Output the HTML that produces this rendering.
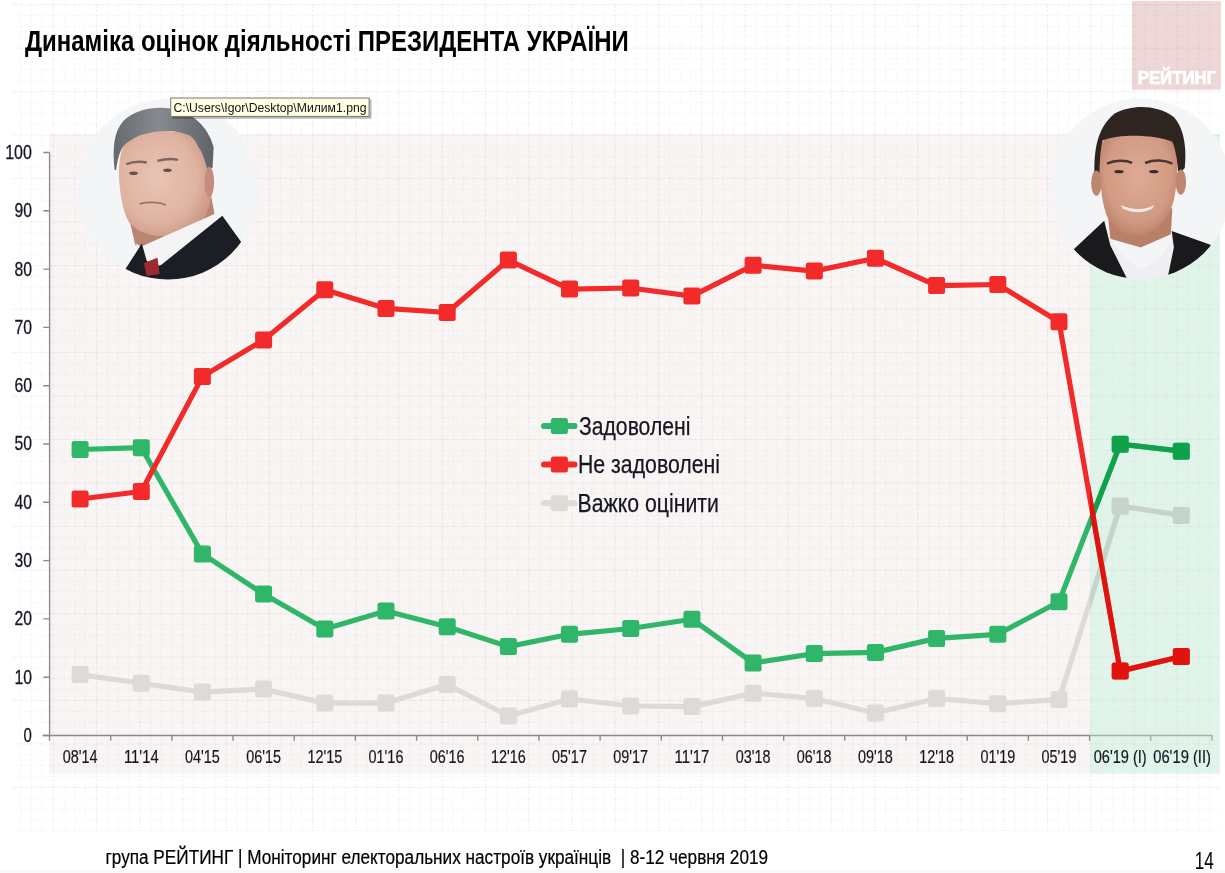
<!DOCTYPE html>
<html><head><meta charset="utf-8"><title>Динаміка оцінок діяльності ПРЕЗИДЕНТА УКРАЇНИ</title>
<style>
html,body{margin:0;padding:0;background:#fff;}
body{width:1225px;height:873px;overflow:hidden;}
svg{display:block;}
text{font-family:"Liberation Sans",Arial,sans-serif;white-space:pre;}
</style></head><body>
<svg width="1225" height="873" viewBox="0 0 1225 873">
<defs>
<pattern id="grid" x="9.5" y="4.1" width="43.23" height="43.49" patternUnits="userSpaceOnUse">
<path d="M0 0.5H43.23M0.5 0V43.49" stroke="#000" stroke-opacity="0.06" stroke-width="1" stroke-dasharray="4 1 3 2" fill="none"/>
<path d="M0 22.25H43.23M22.1 0V43.49" stroke="#000" stroke-opacity="0.035" stroke-width="1" stroke-dasharray="3 2" fill="none"/>
<path d="M0 11.4H43.23M0 33.1H43.23M11.3 0V43.49M32.9 0V43.49" stroke="#000" stroke-opacity="0.018" stroke-width="1" fill="none"/>
</pattern>
<clipPath id="gclip"><rect x="1090" y="134" width="129.7" height="640"/></clipPath>
<clipPath id="c1"><circle cx="168" cy="189.2" r="90.3"/></clipPath>
<clipPath id="c2"><circle cx="1140.7" cy="188.7" r="90.3"/></clipPath>
<radialGradient id="f1" cx="0.42" cy="0.45" r="0.6"><stop offset="0" stop-color="#e9c3b3"/><stop offset="0.7" stop-color="#dfb3a1"/><stop offset="1" stop-color="#cc9985"/></radialGradient>
<linearGradient id="h1" x1="0" y1="0" x2="1" y2="0"><stop offset="0" stop-color="#66696e"/><stop offset="0.45" stop-color="#878a8f"/><stop offset="1" stop-color="#5f6267"/></linearGradient>
<radialGradient id="f2" cx="0.5" cy="0.45" r="0.6"><stop offset="0" stop-color="#dfab94"/><stop offset="0.7" stop-color="#d19a82"/><stop offset="1" stop-color="#b98069"/></radialGradient>
</defs>
<rect x="0" y="869.5" width="1225" height="3.5" fill="#f9f9f9"/>

<rect x="49" y="134" width="1041" height="639.5" fill="#faf5f5"/>
<rect x="1090" y="134" width="129.7" height="639.5" fill="#e1f4ea"/>
<rect x="1132" y="1" width="89" height="88.7" fill="#eed7d7"/>
<rect x="12" y="3" width="1208" height="828" fill="url(#grid)"/>
<text x="1137.7" y="84.2" font-size="17.8" font-weight="bold" fill="#fff" stroke="#fff" stroke-width="0.7" textLength="78.5" lengthAdjust="spacingAndGlyphs">РЕЙТИНГ</text>
<text x="24.9" y="50.6" font-size="30.2" font-weight="bold" fill="#000" textLength="603.8" lengthAdjust="spacingAndGlyphs">Динаміка оцінок діяльності ПРЕЗИДЕНТА УКРАЇНИ</text>
<path d="M49.6 152.5 V736 M42.6 735.5 H1212.3" stroke="#8a8a8a" stroke-width="1.4" fill="none"/>
<path d="M43.3 735.5H49.6 M43.3 677.2H49.6 M43.3 618.9H49.6 M43.3 560.6H49.6 M43.3 502.3H49.6 M43.3 444.0H49.6 M43.3 385.7H49.6 M43.3 327.4H49.6 M43.3 269.1H49.6 M43.3 210.8H49.6 M43.3 152.5H49.6 M49.5 735.5V740.8 M110.7 735.5V740.8 M171.9 735.5V740.8 M233.0 735.5V740.8 M294.2 735.5V740.8 M355.4 735.5V740.8 M416.6 735.5V740.8 M477.8 735.5V740.8 M538.9 735.5V740.8 M600.1 735.5V740.8 M661.3 735.5V740.8 M722.5 735.5V740.8 M783.7 735.5V740.8 M844.8 735.5V740.8 M906.0 735.5V740.8 M967.2 735.5V740.8 M1028.4 735.5V740.8 M1089.6 735.5V740.8 M1150.7 735.5V740.8 M1211.9 735.5V740.8" stroke="#8a8a8a" stroke-width="1.4" fill="none"/>
<text x="31.9" y="741.9" font-size="20.8" fill="#161622" stroke="#161622" stroke-width="0.3" text-anchor="end" textLength="8.3" lengthAdjust="spacingAndGlyphs">0</text>
<text x="31.9" y="683.6" font-size="20.8" fill="#161622" stroke="#161622" stroke-width="0.3" text-anchor="end" textLength="17.5" lengthAdjust="spacingAndGlyphs">10</text>
<text x="31.9" y="625.3" font-size="20.8" fill="#161622" stroke="#161622" stroke-width="0.3" text-anchor="end" textLength="17.5" lengthAdjust="spacingAndGlyphs">20</text>
<text x="31.9" y="567.0" font-size="20.8" fill="#161622" stroke="#161622" stroke-width="0.3" text-anchor="end" textLength="17.5" lengthAdjust="spacingAndGlyphs">30</text>
<text x="31.9" y="508.7" font-size="20.8" fill="#161622" stroke="#161622" stroke-width="0.3" text-anchor="end" textLength="17.5" lengthAdjust="spacingAndGlyphs">40</text>
<text x="31.9" y="450.4" font-size="20.8" fill="#161622" stroke="#161622" stroke-width="0.3" text-anchor="end" textLength="17.5" lengthAdjust="spacingAndGlyphs">50</text>
<text x="31.9" y="392.1" font-size="20.8" fill="#161622" stroke="#161622" stroke-width="0.3" text-anchor="end" textLength="17.5" lengthAdjust="spacingAndGlyphs">60</text>
<text x="31.9" y="333.8" font-size="20.8" fill="#161622" stroke="#161622" stroke-width="0.3" text-anchor="end" textLength="17.5" lengthAdjust="spacingAndGlyphs">70</text>
<text x="31.9" y="275.5" font-size="20.8" fill="#161622" stroke="#161622" stroke-width="0.3" text-anchor="end" textLength="17.5" lengthAdjust="spacingAndGlyphs">80</text>
<text x="31.9" y="217.2" font-size="20.8" fill="#161622" stroke="#161622" stroke-width="0.3" text-anchor="end" textLength="17.5" lengthAdjust="spacingAndGlyphs">90</text>
<text x="31.9" y="158.9" font-size="20.8" fill="#161622" stroke="#161622" stroke-width="0.3" text-anchor="end" textLength="26.7" lengthAdjust="spacingAndGlyphs">100</text>
<polyline points="80.1,674.6 141.3,683.3 202.4,692.1 263.6,689.1 324.8,703.1 386.0,703.1 447.2,684.5 508.4,716.0 569.5,699.0 630.7,706.0 691.9,706.6 753.1,693.2 814.2,698.5 875.4,713.0 936.6,698.5 997.8,703.7 1059.0,699.6 1120.2,506.0 1181.3,515.4" fill="none" stroke="#dedada" stroke-width="5.2" stroke-linejoin="round"/><rect x="71.6" y="666.1" width="17" height="17" rx="2.5" fill="#dedada"/><rect x="132.8" y="674.8" width="17" height="17" rx="2.5" fill="#dedada"/><rect x="193.9" y="683.6" width="17" height="17" rx="2.5" fill="#dedada"/><rect x="255.1" y="680.6" width="17" height="17" rx="2.5" fill="#dedada"/><rect x="316.3" y="694.6" width="17" height="17" rx="2.5" fill="#dedada"/><rect x="377.5" y="694.6" width="17" height="17" rx="2.5" fill="#dedada"/><rect x="438.7" y="676.0" width="17" height="17" rx="2.5" fill="#dedada"/><rect x="499.9" y="707.5" width="17" height="17" rx="2.5" fill="#dedada"/><rect x="561.0" y="690.5" width="17" height="17" rx="2.5" fill="#dedada"/><rect x="622.2" y="697.5" width="17" height="17" rx="2.5" fill="#dedada"/><rect x="683.4" y="698.1" width="17" height="17" rx="2.5" fill="#dedada"/><rect x="744.6" y="684.7" width="17" height="17" rx="2.5" fill="#dedada"/><rect x="805.8" y="690.0" width="17" height="17" rx="2.5" fill="#dedada"/><rect x="866.9" y="704.5" width="17" height="17" rx="2.5" fill="#dedada"/><rect x="928.1" y="690.0" width="17" height="17" rx="2.5" fill="#dedada"/><rect x="989.3" y="695.2" width="17" height="17" rx="2.5" fill="#dedada"/><rect x="1050.5" y="691.1" width="17" height="17" rx="2.5" fill="#dedada"/><rect x="1111.7" y="497.5" width="17" height="17" rx="2.5" fill="#dedada"/><rect x="1172.8" y="506.9" width="17" height="17" rx="2.5" fill="#dedada"/><polyline points="80.1,449.5 141.3,447.7 202.4,553.9 263.6,594.1 324.8,629.1 386.0,611.0 447.2,626.7 508.4,646.6 569.5,634.3 630.7,628.5 691.9,619.2 753.1,662.9 814.2,653.6 875.4,652.4 936.6,638.4 997.8,634.3 1059.0,601.7 1120.2,444.2 1181.3,451.2" fill="none" stroke="#2fb668" stroke-width="5.2" stroke-linejoin="round"/><rect x="71.6" y="441.0" width="17" height="17" rx="2.5" fill="#2fb668"/><rect x="132.8" y="439.2" width="17" height="17" rx="2.5" fill="#2fb668"/><rect x="193.9" y="545.4" width="17" height="17" rx="2.5" fill="#2fb668"/><rect x="255.1" y="585.6" width="17" height="17" rx="2.5" fill="#2fb668"/><rect x="316.3" y="620.6" width="17" height="17" rx="2.5" fill="#2fb668"/><rect x="377.5" y="602.5" width="17" height="17" rx="2.5" fill="#2fb668"/><rect x="438.7" y="618.2" width="17" height="17" rx="2.5" fill="#2fb668"/><rect x="499.9" y="638.1" width="17" height="17" rx="2.5" fill="#2fb668"/><rect x="561.0" y="625.8" width="17" height="17" rx="2.5" fill="#2fb668"/><rect x="622.2" y="620.0" width="17" height="17" rx="2.5" fill="#2fb668"/><rect x="683.4" y="610.7" width="17" height="17" rx="2.5" fill="#2fb668"/><rect x="744.6" y="654.4" width="17" height="17" rx="2.5" fill="#2fb668"/><rect x="805.8" y="645.1" width="17" height="17" rx="2.5" fill="#2fb668"/><rect x="866.9" y="643.9" width="17" height="17" rx="2.5" fill="#2fb668"/><rect x="928.1" y="629.9" width="17" height="17" rx="2.5" fill="#2fb668"/><rect x="989.3" y="625.8" width="17" height="17" rx="2.5" fill="#2fb668"/><rect x="1050.5" y="593.2" width="17" height="17" rx="2.5" fill="#2fb668"/><rect x="1111.7" y="435.7" width="17" height="17" rx="2.5" fill="#2fb668"/><rect x="1172.8" y="442.7" width="17" height="17" rx="2.5" fill="#2fb668"/><polyline points="80.1,499.0 141.3,491.5 202.4,376.6 263.6,339.9 324.8,289.7 386.0,308.4 447.2,312.5 508.4,260.0 569.5,289.1 630.7,288.0 691.9,296.1 753.1,265.2 814.2,271.1 875.4,258.2 936.6,285.6 997.8,284.5 1059.0,321.8 1120.2,671.1 1181.3,656.5" fill="none" stroke="#f32a2a" stroke-width="5.2" stroke-linejoin="round"/><rect x="71.6" y="490.5" width="17" height="17" rx="2.5" fill="#f32a2a"/><rect x="132.8" y="483.0" width="17" height="17" rx="2.5" fill="#f32a2a"/><rect x="193.9" y="368.1" width="17" height="17" rx="2.5" fill="#f32a2a"/><rect x="255.1" y="331.4" width="17" height="17" rx="2.5" fill="#f32a2a"/><rect x="316.3" y="281.2" width="17" height="17" rx="2.5" fill="#f32a2a"/><rect x="377.5" y="299.9" width="17" height="17" rx="2.5" fill="#f32a2a"/><rect x="438.7" y="304.0" width="17" height="17" rx="2.5" fill="#f32a2a"/><rect x="499.9" y="251.5" width="17" height="17" rx="2.5" fill="#f32a2a"/><rect x="561.0" y="280.6" width="17" height="17" rx="2.5" fill="#f32a2a"/><rect x="622.2" y="279.5" width="17" height="17" rx="2.5" fill="#f32a2a"/><rect x="683.4" y="287.6" width="17" height="17" rx="2.5" fill="#f32a2a"/><rect x="744.6" y="256.7" width="17" height="17" rx="2.5" fill="#f32a2a"/><rect x="805.8" y="262.6" width="17" height="17" rx="2.5" fill="#f32a2a"/><rect x="866.9" y="249.7" width="17" height="17" rx="2.5" fill="#f32a2a"/><rect x="928.1" y="277.1" width="17" height="17" rx="2.5" fill="#f32a2a"/><rect x="989.3" y="276.0" width="17" height="17" rx="2.5" fill="#f32a2a"/><rect x="1050.5" y="313.3" width="17" height="17" rx="2.5" fill="#f32a2a"/><rect x="1111.7" y="662.6" width="17" height="17" rx="2.5" fill="#f32a2a"/><rect x="1172.8" y="648.0" width="17" height="17" rx="2.5" fill="#f32a2a"/>
<g clip-path="url(#gclip)"><rect x="1090" y="134" width="130" height="640" fill="#dff3e8" opacity="0.35"/><polyline points="80.1,674.6 141.3,683.3 202.4,692.1 263.6,689.1 324.8,703.1 386.0,703.1 447.2,684.5 508.4,716.0 569.5,699.0 630.7,706.0 691.9,706.6 753.1,693.2 814.2,698.5 875.4,713.0 936.6,698.5 997.8,703.7 1059.0,699.6 1120.2,506.0 1181.3,515.4" fill="none" stroke="#c6d3cb" stroke-width="5.2" stroke-linejoin="round"/><rect x="71.6" y="666.1" width="17" height="17" rx="2.5" fill="#c6d3cb"/><rect x="132.8" y="674.8" width="17" height="17" rx="2.5" fill="#c6d3cb"/><rect x="193.9" y="683.6" width="17" height="17" rx="2.5" fill="#c6d3cb"/><rect x="255.1" y="680.6" width="17" height="17" rx="2.5" fill="#c6d3cb"/><rect x="316.3" y="694.6" width="17" height="17" rx="2.5" fill="#c6d3cb"/><rect x="377.5" y="694.6" width="17" height="17" rx="2.5" fill="#c6d3cb"/><rect x="438.7" y="676.0" width="17" height="17" rx="2.5" fill="#c6d3cb"/><rect x="499.9" y="707.5" width="17" height="17" rx="2.5" fill="#c6d3cb"/><rect x="561.0" y="690.5" width="17" height="17" rx="2.5" fill="#c6d3cb"/><rect x="622.2" y="697.5" width="17" height="17" rx="2.5" fill="#c6d3cb"/><rect x="683.4" y="698.1" width="17" height="17" rx="2.5" fill="#c6d3cb"/><rect x="744.6" y="684.7" width="17" height="17" rx="2.5" fill="#c6d3cb"/><rect x="805.8" y="690.0" width="17" height="17" rx="2.5" fill="#c6d3cb"/><rect x="866.9" y="704.5" width="17" height="17" rx="2.5" fill="#c6d3cb"/><rect x="928.1" y="690.0" width="17" height="17" rx="2.5" fill="#c6d3cb"/><rect x="989.3" y="695.2" width="17" height="17" rx="2.5" fill="#c6d3cb"/><rect x="1050.5" y="691.1" width="17" height="17" rx="2.5" fill="#c6d3cb"/><rect x="1111.7" y="497.5" width="17" height="17" rx="2.5" fill="#c6d3cb"/><rect x="1172.8" y="506.9" width="17" height="17" rx="2.5" fill="#c6d3cb"/><polyline points="80.1,449.5 141.3,447.7 202.4,553.9 263.6,594.1 324.8,629.1 386.0,611.0 447.2,626.7 508.4,646.6 569.5,634.3 630.7,628.5 691.9,619.2 753.1,662.9 814.2,653.6 875.4,652.4 936.6,638.4 997.8,634.3 1059.0,601.7 1120.2,444.2 1181.3,451.2" fill="none" stroke="#0fa24a" stroke-width="5.2" stroke-linejoin="round"/><rect x="71.6" y="441.0" width="17" height="17" rx="2.5" fill="#0fa24a"/><rect x="132.8" y="439.2" width="17" height="17" rx="2.5" fill="#0fa24a"/><rect x="193.9" y="545.4" width="17" height="17" rx="2.5" fill="#0fa24a"/><rect x="255.1" y="585.6" width="17" height="17" rx="2.5" fill="#0fa24a"/><rect x="316.3" y="620.6" width="17" height="17" rx="2.5" fill="#0fa24a"/><rect x="377.5" y="602.5" width="17" height="17" rx="2.5" fill="#0fa24a"/><rect x="438.7" y="618.2" width="17" height="17" rx="2.5" fill="#0fa24a"/><rect x="499.9" y="638.1" width="17" height="17" rx="2.5" fill="#0fa24a"/><rect x="561.0" y="625.8" width="17" height="17" rx="2.5" fill="#0fa24a"/><rect x="622.2" y="620.0" width="17" height="17" rx="2.5" fill="#0fa24a"/><rect x="683.4" y="610.7" width="17" height="17" rx="2.5" fill="#0fa24a"/><rect x="744.6" y="654.4" width="17" height="17" rx="2.5" fill="#0fa24a"/><rect x="805.8" y="645.1" width="17" height="17" rx="2.5" fill="#0fa24a"/><rect x="866.9" y="643.9" width="17" height="17" rx="2.5" fill="#0fa24a"/><rect x="928.1" y="629.9" width="17" height="17" rx="2.5" fill="#0fa24a"/><rect x="989.3" y="625.8" width="17" height="17" rx="2.5" fill="#0fa24a"/><rect x="1050.5" y="593.2" width="17" height="17" rx="2.5" fill="#0fa24a"/><rect x="1111.7" y="435.7" width="17" height="17" rx="2.5" fill="#0fa24a"/><rect x="1172.8" y="442.7" width="17" height="17" rx="2.5" fill="#0fa24a"/><polyline points="80.1,499.0 141.3,491.5 202.4,376.6 263.6,339.9 324.8,289.7 386.0,308.4 447.2,312.5 508.4,260.0 569.5,289.1 630.7,288.0 691.9,296.1 753.1,265.2 814.2,271.1 875.4,258.2 936.6,285.6 997.8,284.5 1059.0,321.8 1120.2,671.1 1181.3,656.5" fill="none" stroke="#e2120e" stroke-width="5.2" stroke-linejoin="round"/><rect x="71.6" y="490.5" width="17" height="17" rx="2.5" fill="#e2120e"/><rect x="132.8" y="483.0" width="17" height="17" rx="2.5" fill="#e2120e"/><rect x="193.9" y="368.1" width="17" height="17" rx="2.5" fill="#e2120e"/><rect x="255.1" y="331.4" width="17" height="17" rx="2.5" fill="#e2120e"/><rect x="316.3" y="281.2" width="17" height="17" rx="2.5" fill="#e2120e"/><rect x="377.5" y="299.9" width="17" height="17" rx="2.5" fill="#e2120e"/><rect x="438.7" y="304.0" width="17" height="17" rx="2.5" fill="#e2120e"/><rect x="499.9" y="251.5" width="17" height="17" rx="2.5" fill="#e2120e"/><rect x="561.0" y="280.6" width="17" height="17" rx="2.5" fill="#e2120e"/><rect x="622.2" y="279.5" width="17" height="17" rx="2.5" fill="#e2120e"/><rect x="683.4" y="287.6" width="17" height="17" rx="2.5" fill="#e2120e"/><rect x="744.6" y="256.7" width="17" height="17" rx="2.5" fill="#e2120e"/><rect x="805.8" y="262.6" width="17" height="17" rx="2.5" fill="#e2120e"/><rect x="866.9" y="249.7" width="17" height="17" rx="2.5" fill="#e2120e"/><rect x="928.1" y="277.1" width="17" height="17" rx="2.5" fill="#e2120e"/><rect x="989.3" y="276.0" width="17" height="17" rx="2.5" fill="#e2120e"/><rect x="1050.5" y="313.3" width="17" height="17" rx="2.5" fill="#e2120e"/><rect x="1111.7" y="662.6" width="17" height="17" rx="2.5" fill="#e2120e"/><rect x="1172.8" y="648.0" width="17" height="17" rx="2.5" fill="#e2120e"/></g>
<text x="80.1" y="762.9" font-size="18.2" fill="#161622" stroke="#161622" stroke-width="0.2" text-anchor="middle" textLength="34.8" lengthAdjust="spacingAndGlyphs">08'14</text>
<text x="141.3" y="762.9" font-size="18.2" fill="#161622" stroke="#161622" stroke-width="0.2" text-anchor="middle" textLength="34.8" lengthAdjust="spacingAndGlyphs">11'14</text>
<text x="202.4" y="762.9" font-size="18.2" fill="#161622" stroke="#161622" stroke-width="0.2" text-anchor="middle" textLength="34.8" lengthAdjust="spacingAndGlyphs">04'15</text>
<text x="263.6" y="762.9" font-size="18.2" fill="#161622" stroke="#161622" stroke-width="0.2" text-anchor="middle" textLength="34.8" lengthAdjust="spacingAndGlyphs">06'15</text>
<text x="324.8" y="762.9" font-size="18.2" fill="#161622" stroke="#161622" stroke-width="0.2" text-anchor="middle" textLength="34.8" lengthAdjust="spacingAndGlyphs">12'15</text>
<text x="386.0" y="762.9" font-size="18.2" fill="#161622" stroke="#161622" stroke-width="0.2" text-anchor="middle" textLength="34.8" lengthAdjust="spacingAndGlyphs">01'16</text>
<text x="447.2" y="762.9" font-size="18.2" fill="#161622" stroke="#161622" stroke-width="0.2" text-anchor="middle" textLength="34.8" lengthAdjust="spacingAndGlyphs">06'16</text>
<text x="508.4" y="762.9" font-size="18.2" fill="#161622" stroke="#161622" stroke-width="0.2" text-anchor="middle" textLength="34.8" lengthAdjust="spacingAndGlyphs">12'16</text>
<text x="569.5" y="762.9" font-size="18.2" fill="#161622" stroke="#161622" stroke-width="0.2" text-anchor="middle" textLength="34.8" lengthAdjust="spacingAndGlyphs">05'17</text>
<text x="630.7" y="762.9" font-size="18.2" fill="#161622" stroke="#161622" stroke-width="0.2" text-anchor="middle" textLength="34.8" lengthAdjust="spacingAndGlyphs">09'17</text>
<text x="691.9" y="762.9" font-size="18.2" fill="#161622" stroke="#161622" stroke-width="0.2" text-anchor="middle" textLength="34.8" lengthAdjust="spacingAndGlyphs">11'17</text>
<text x="753.1" y="762.9" font-size="18.2" fill="#161622" stroke="#161622" stroke-width="0.2" text-anchor="middle" textLength="34.8" lengthAdjust="spacingAndGlyphs">03'18</text>
<text x="814.2" y="762.9" font-size="18.2" fill="#161622" stroke="#161622" stroke-width="0.2" text-anchor="middle" textLength="34.8" lengthAdjust="spacingAndGlyphs">06'18</text>
<text x="875.4" y="762.9" font-size="18.2" fill="#161622" stroke="#161622" stroke-width="0.2" text-anchor="middle" textLength="34.8" lengthAdjust="spacingAndGlyphs">09'18</text>
<text x="936.6" y="762.9" font-size="18.2" fill="#161622" stroke="#161622" stroke-width="0.2" text-anchor="middle" textLength="34.8" lengthAdjust="spacingAndGlyphs">12'18</text>
<text x="997.8" y="762.9" font-size="18.2" fill="#161622" stroke="#161622" stroke-width="0.2" text-anchor="middle" textLength="34.8" lengthAdjust="spacingAndGlyphs">01'19</text>
<text x="1059.0" y="762.9" font-size="18.2" fill="#161622" stroke="#161622" stroke-width="0.2" text-anchor="middle" textLength="34.8" lengthAdjust="spacingAndGlyphs">05'19</text>
<text x="1120.2" y="762.9" font-size="18.2" fill="#161622" stroke="#161622" stroke-width="0.2" text-anchor="middle" textLength="53.0" lengthAdjust="spacingAndGlyphs">06'19 (I)</text>
<text x="1182.1" y="762.9" font-size="18.2" fill="#161622" stroke="#161622" stroke-width="0.2" text-anchor="middle" textLength="57.8" lengthAdjust="spacingAndGlyphs">06'19 (II)</text>
<path d="M544 426.0H574.5" stroke="#2fb668" stroke-width="6" stroke-linecap="round"/>
<rect x="550.9" y="418.0" width="17" height="16" rx="2.5" fill="#2fb668"/>
<text x="579.0" y="434.6" font-size="26.3" fill="#161622" stroke="#161622" stroke-width="0.25" textLength="111.4" lengthAdjust="spacingAndGlyphs">Задоволені</text>
<path d="M544 464.6H574.5" stroke="#f32a2a" stroke-width="6" stroke-linecap="round"/>
<rect x="550.9" y="456.6" width="17" height="16" rx="2.5" fill="#f32a2a"/>
<text x="578.0" y="473.2" font-size="26.3" fill="#161622" stroke="#161622" stroke-width="0.25" textLength="142.0" lengthAdjust="spacingAndGlyphs">Не задоволені</text>
<path d="M544 503.3H574.5" stroke="#dedada" stroke-width="6" stroke-linecap="round"/>
<rect x="550.9" y="495.3" width="17" height="16" rx="2.5" fill="#dedada"/>
<text x="577.5" y="511.9" font-size="26.3" fill="#161622" stroke="#161622" stroke-width="0.25" textLength="141.5" lengthAdjust="spacingAndGlyphs">Важко оцінити</text>
<g clip-path="url(#c1)">
<rect x="70" y="95" width="200" height="190" fill="#f4f5f7"/>
<g transform="translate(70 95) scale(0.21763)">
<path d="M270,560 L300,690 L330,705 L665,550 L650,470 Z" fill="#bb8574"/>
<path d="M225,380 C222,260 250,180 330,170 C420,160 540,165 600,200 C635,260 648,340 652,400 C656,460 640,520 620,560 C580,610 520,640 440,648 C360,652 300,622 270,582 C245,542 230,460 225,380 Z" fill="url(#f1)"/>
<path d="M205,345 C195,250 200,170 245,120 C300,60 420,45 500,70 C580,95 640,160 660,240 L655,335 L629,335 C615,280 600,250 591,241 C575,205 560,190 544,184 C510,170 480,165 449,165 C400,165 360,172 326,184 C290,200 260,215 241,241 C225,270 218,300 212,345 Z" fill="url(#h1)"/>
<ellipse cx="292" cy="360" rx="20" ry="8" fill="#6a5048"/>
<ellipse cx="448" cy="346" rx="20" ry="8" fill="#6a5048"/>
<ellipse cx="640" cy="400" rx="22" ry="70" fill="#c48d7d"/>
<path d="M259,318 C290,305 325,305 353,310 M402,303 C440,292 470,292 496,298" stroke="#7d6660" stroke-width="11" fill="none"/>
<path d="M320,500 C360,490 410,492 440,505" stroke="#a87066" stroke-width="8" fill="none"/>
<path d="M300,680 L325,697 L661,548 L690,535 L707,553 L418,772 L345,770 Z" fill="#f4f4f4"/>
<path d="M200,900 L255,800 L330,682 L352,760 L385,792 L420,780 L700,555 L790,680 L820,900 Z" fill="#1c1e26"/>
<path d="M340,772 L402,748 L412,822 L352,832 Z" fill="#9c2a30"/>
</g>
</g>
<g clip-path="url(#c2)">
<rect x="1045" y="95" width="190" height="190" fill="#f4f5f7"/>
<g transform="translate(1045 95) scale(0.21768)">
<path d="M288,540 L300,660 L440,700 L578,640 L585,520 Z" fill="#b98069"/>
<path d="M252,280 C255,175 320,150 420,148 C520,148 590,160 602,262 C612,332 606,420 592,482 C572,562 522,622 440,642 C370,652 312,612 287,562 C266,512 252,422 252,332 Z" fill="url(#f2)"/>
<path d="M228,385 C222,250 240,150 320,85 C400,40 520,45 590,100 C640,150 652,250 642,335 L612,365 C608,300 600,250 585,215 C500,182 350,178 265,208 C252,262 250,322 252,392 Z" fill="#2e2420"/>
<ellipse cx="236" cy="405" rx="24" ry="58" fill="#be8570"/>
<ellipse cx="624" cy="400" rx="24" ry="58" fill="#be8570"/>
<path d="M285,315 C320,298 370,298 400,312 M460,312 C500,296 550,298 585,315" stroke="#4a3530" stroke-width="12" fill="none"/>
<ellipse cx="340" cy="352" rx="22" ry="8" fill="#3a2a26"/>
<ellipse cx="500" cy="352" rx="22" ry="8" fill="#3a2a26"/>
<path d="M350,505 C400,530 460,530 500,505 L495,520 C455,545 400,545 355,520 Z" fill="#f2e8e4"/>
<path d="M272,578 L300,690 L385,873 L560,873 L580,760 L592,640 L560,700 L520,760 L440,800 L360,740 L300,660 Z" fill="#efeff1"/>
<path d="M120,720 L272,578 L300,690 L395,880 L120,880 Z" fill="#1a1a1c"/>
<path d="M582,625 L760,688 L820,880 L555,880 L592,700 Z" fill="#1a1a1c"/>
</g>
</g>
<rect x="172.2" y="99.5" width="199.4" height="19.4" fill="#000" opacity="0.25"/>
<rect x="170.7" y="98" width="198.4" height="18.4" fill="#ffffe1" stroke="#767676" stroke-width="1"/>
<text x="173.5" y="111.9" font-size="12" fill="#111" textLength="193" lengthAdjust="spacingAndGlyphs">C:\Users\Igor\Desktop\Милим1.png</text>
<text x="105.5" y="863.7" font-size="20" fill="#000" stroke="#000" stroke-width="0.2" textLength="662.6" lengthAdjust="spacingAndGlyphs">група РЕЙТИНГ | Моніторинг електоральних настроїв українців  | 8-12 червня 2019</text>
<text x="1194.8" y="869" font-size="24" fill="#000" textLength="19" lengthAdjust="spacingAndGlyphs">14</text>
</svg>
</body></html>
